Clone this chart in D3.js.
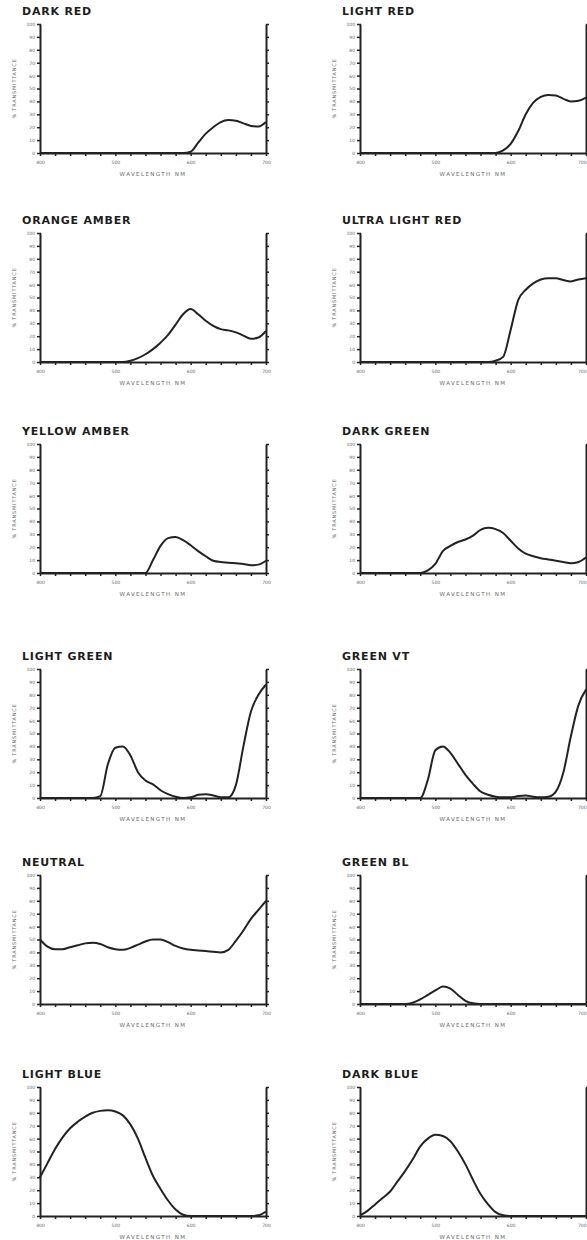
<!DOCTYPE html>
<html>
<head>
<meta charset="utf-8">
<script src="https://cdn.jsdelivr.net/npm/d3@7"></script>
<style>
    body { margin: 0; background: #fff; }
    .title { font-family: "DejaVu Sans", sans-serif; font-weight: bold; font-size: 11px; letter-spacing: 0.8px; fill: #1e1e1e; }
    .axis path, .axis line { stroke: #222; }
    .axis text { font-family: "DejaVu Sans", sans-serif; font-size: 4.5px; fill: #666; }
    .axis-label { font-family: "DejaVu Sans", sans-serif; fill: #6a6a6a; }
    .curve { fill: none; stroke: #222; stroke-width: 2; }
</style>
</head>
<body>
<svg id="chart" width="587" height="1240"></svg>
<script>
    // wavelength grid (nm) shared by all filters
    var wavelength = [400, 410, 420, 430, 440, 450, 460, 470, 480, 490,
        500, 510, 520, 530, 540, 550, 560, 570, 580, 590,
        600, 610, 620, 630, 640, 650, 660, 670, 680, 690, 700];

    var titles = ["DARK RED", "LIGHT RED", "ORANGE AMBER", "ULTRA LIGHT RED",
        "YELLOW AMBER", "DARK GREEN", "LIGHT GREEN", "GREEN VT",
        "NEUTRAL", "GREEN BL", "LIGHT BLUE", "DARK BLUE"];

    // % transmittance
    var darkRed = [0, 0, 0, 0, 0, 0, 0, 0, 0, 0, 0, 0, 0, 0, 0, 0, 0, 0, 0, 0,
        1, 8, 15, 20, 24, 25.5, 25, 23, 21, 20.5, 24];
    var lightRed = [0, 0, 0, 0, 0, 0, 0, 0, 0, 0, 0, 0, 0, 0, 0, 0, 0, 0,
        0, 2, 7, 17, 30, 39, 43.5, 45, 44.5, 42, 40, 40.5, 43];
    var orangeAmber = [0, 0, 0, 0, 0, 0, 0, 0, 0, 0, 0, 0,
        1, 3, 6, 10, 15, 21, 29, 37, 41, 37, 32, 28, 25.5, 24.5, 23, 20.5, 18, 19, 24];
    var ultraLightRed = [0, 0, 0, 0, 0, 0, 0, 0, 0, 0, 0, 0, 0, 0, 0, 0, 0, 0,
        1, 4, 25, 48, 56, 61, 64, 65, 65, 63.5, 62.5, 64, 65];
    var yellowAmber = [0, 0, 0, 0, 0, 0, 0, 0, 0, 0, 0, 0, 0, 0, 0,
        10, 21, 27, 28, 25.5, 21.5, 17, 13, 9.5, 8.5, 8, 7.5, 7, 6, 6.5, 9.5];
    var darkGreen = [0, 0, 0, 0, 0, 0, 0, 0, 0,
        2, 7, 17, 21, 24, 26, 29, 33.5, 35, 34, 31, 25, 19, 15, 13, 11.5, 10.5, 9.5, 8.5, 7.5, 8.5, 12];
    var lightGreen = [0, 0, 0, 0, 0, 0, 0, 0,
        1.5, 26, 39, 40, 33, 20, 13.5, 10.5, 6, 3, 1, 0, 0.5, 2.5, 3, 2, 0.5, 0.5, 10, 40, 67, 80, 88];
    var greenVT = [0, 0, 0, 0, 0, 0, 0, 0, 0,
        14, 37, 40, 35, 26.5, 18, 11, 5, 2.5, 1, 0.5, 0.5, 1.5, 2, 1, 0.5, 1, 5, 20, 48, 72, 84];
    var neutral = [50, 44.5, 42.5, 42.5, 44, 45.5, 47, 47.5, 46.5, 44,
        42.5, 42, 43.5, 46, 48.5, 50, 50, 48, 45, 43,
        42, 41.5, 41, 40.5, 40, 42, 49, 57, 66, 73, 80];
    var greenBL = [0, 0, 0, 0, 0, 0, 0, 1, 3.5, 7, 10.5, 13.5, 12, 7, 2.5, 0.5,
        0, 0, 0, 0, 0, 0, 0, 0, 0, 0, 0, 0, 0, 0, 0];
    var lightBlue = [30, 41, 52, 61, 68, 73, 77, 80, 81.5, 82, 81, 78, 71, 60, 45, 31, 21, 12, 5, 1,
        0, 0, 0, 0, 0, 0, 0, 0, 0, 0.5, 3.5];
    var darkBlue = [0.5, 4, 9, 14, 19, 27, 35, 44, 54, 60, 63, 62, 58, 50, 40, 28, 17, 9, 3, 0.5,
        0, 0, 0, 0, 0, 0, 0, 0, 0, 0, 0];

    var series = [darkRed, lightRed, orangeAmber, ultraLightRed, yellowAmber, darkGreen,
        lightGreen, greenVT, neutral, greenBL, lightBlue, darkBlue];

    var yTicks = [0, 10, 20, 30, 40, 50, 60, 70, 80, 90, 100];
    var xTicks = [400, 420, 440, 460, 480, 500, 520, 540, 560, 580, 600, 620, 640, 660, 680, 700];
    var xLabels = [400, 500, 600, 700];

    // layout
    var colLeft = [40, 360];
    var rowTop = [24, 233, 444, 669, 875, 1087];
    var plotW = 226, plotH = 129;

    var svg = d3.select("#chart");

    var x = d3.scaleLinear().domain([400, 700]).range([0, plotW]);
    var y = d3.scaleLinear().domain([0, 100]).range([plotH, 0]);

    var line = d3.line()
        .x(function (d) { return x(d[0]); })
        .y(function (d) { return y(d[1]); })
        .curve(d3.curveMonotoneX);

    series.forEach(function (values, i) {
        var col = i % 2, row = Math.floor(i / 2);
        var g = svg.append("g")
            .attr("transform", "translate(" + colLeft[col] + "," + rowTop[row] + ")");

        g.append("text")
            .attr("class", "title")
            .attr("x", -18)
            .attr("y", -9)
            .text(titles[i]);

        // left axis
        g.append("g")
            .attr("class", "axis")
            .call(d3.axisLeft(y).tickValues(yTicks).tickSize(3).tickSizeOuter(0).tickPadding(2)
                .tickFormat(function (d) { return d; }))
            .call(function (a) {
                a.select(".domain").attr("stroke-width", 2);
                a.selectAll(".tick line").attr("stroke-width", 1.5).attr("x2", -3).attr("x1", 1);
            });

        // right axis, ticks only
        g.append("g")
            .attr("class", "axis")
            .attr("transform", "translate(" + plotW + ",0)")
            .call(d3.axisRight(y).tickValues(yTicks).tickSize(3).tickSizeOuter(0).tickFormat(""))
            .call(function (a) {
                a.select(".domain").attr("stroke-width", 2);
                a.selectAll(".tick line").attr("stroke-width", 1.5);
            });

        // bottom axis
        g.append("g")
            .attr("class", "axis")
            .attr("transform", "translate(0," + plotH + ")")
            .call(d3.axisBottom(x).tickValues(xTicks).tickSize(3).tickSizeOuter(0).tickPadding(5)
                .tickFormat(function (d) { return xLabels.indexOf(d) >= 0 ? d : ""; }))
            .call(function (a) {
                a.select(".domain").attr("stroke-width", 2);
                a.selectAll(".tick line").attr("stroke-width", 1.5);
                // right column sits at the page edge: keep the last label inside
                if (col === 1) {
                    a.selectAll(".tick text")
                        .filter(function (d) { return d === 700; })
                        .attr("text-anchor", "end");
                }
            });

        g.append("text")
            .attr("class", "axis-label")
            .attr("x", plotW / 2)
            .attr("y", plotH + 23)
            .attr("text-anchor", "middle")
            .style("font-size", "5.5px")
            .style("letter-spacing", "1.4px")
            .text("WAVELENGTH NM");

        g.append("text")
            .attr("class", "axis-label")
            .attr("transform", "translate(-24," + (plotH / 2) + ") rotate(-90)")
            .attr("text-anchor", "middle")
            .style("font-size", "5px")
            .style("letter-spacing", "0.8px")
            .text("% TRANSMITTANCE");

        g.append("path")
            .attr("class", "curve")
            .attr("d", line(wavelength.map(function (w, k) { return [w, values[k]]; })));
    });
</script>
</body>
</html>
